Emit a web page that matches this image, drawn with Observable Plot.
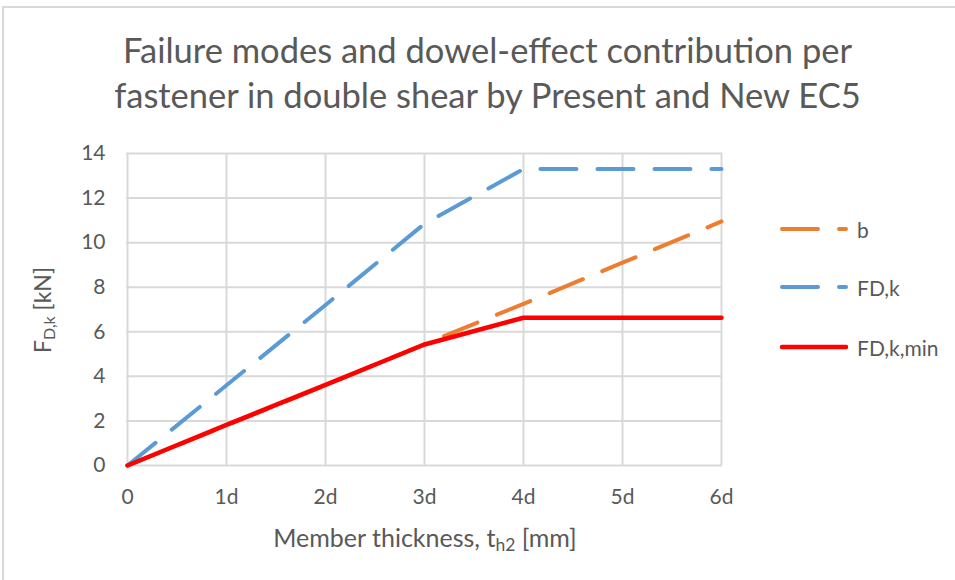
<!DOCTYPE html>
<html><head><meta charset="utf-8">
<script src="https://cdn.jsdelivr.net/npm/d3@7"></script>
<script src="https://cdn.jsdelivr.net/npm/@observablehq/plot@0.6"></script>
<style>
body{margin:0;background:#fff;}
#chart{position:relative;width:955px;height:580px;overflow:hidden;font-family:Lato,"Open Sans",sans-serif;color:#595959;background:#fff;}
#frame{position:absolute;left:2px;top:6px;width:990px;height:600px;border-top:2px solid #d9d9d9;border-left:2px solid #d9d9d9;}
#title{position:absolute;left:0;width:975px;top:27px;text-align:center;font-size:34.5px;line-height:45px;}
#plot{position:absolute;left:0;top:130px;}
#ytitle{position:absolute;left:42px;top:310px;transform:translate(-50%,-50%) rotate(-90deg);white-space:nowrap;font-size:23px;}
#xtitle{position:absolute;left:425px;top:537px;transform:translate(-50%,-50%);white-space:nowrap;font-size:25px;}
sub{font-size:0.7em;vertical-align:-0.25em;line-height:0;}
.leg{position:absolute;left:778px;height:20px;display:flex;align-items:center;font-size:21px;white-space:nowrap;}
.leg svg{margin-right:9px;}
</style></head>
<body>
<div id="chart">
<div id="frame"></div>
<div id="title">Failure modes and dowel-effect contribution per<br>fastener in double shear by Present and New EC5</div>
<div id="plot"></div>
<div id="ytitle">F<sub>D,k</sub> [kN]</div>
<div id="xtitle">Member thickness, t<sub>h2</sub> [mm]</div>
<div id="legend"></div>
</div>
<script>
const categories = ["0","1d","2d","3d","4d","5d","6d"];
const bValues = [0, 1.8, 3.6, 5.45, 7.25, 9.1, 10.95];
const fdkValues = [0, 3.6, 7.2, 10.85, 13.3, 13.3, 13.3];
const fdkMinValues = [0, 1.82, 3.62, 5.43, 6.63, 6.63, 6.63];
const yTicks = [0, 2, 4, 6, 8, 10, 12, 14];
const seriesNames = ["b", "FD,k", "FD,k,min"];
const seriesColors = ["#ed7d31", "#5b9bd5", "#ff0000"];

const rows = (vals, name) => categories.map((c, i) => ({x: c, y: vals[i], series: name}));
const bData = rows(bValues, seriesNames[0]);
const fdkData = rows(fdkValues, seriesNames[1]);
const minData = rows(fdkMinValues, seriesNames[2]);

const dash = "36,21";
const chart = Plot.plot({
  width: 955,
  height: 450,
  marginLeft: 126,
  marginRight: 233,
  marginTop: 23,
  marginBottom: 115,
  style: {fontFamily: "Lato, 'Open Sans', sans-serif", fontSize: "21px", color: "#595959", background: "transparent", overflow: "visible"},
  x: {type: "point", domain: categories, padding: 0, label: null},
  y: {domain: [0, 14], ticks: yTicks, label: null},
  marks: [
    Plot.gridX(categories, {stroke: "#d9d9d9", strokeOpacity: 1, strokeWidth: 2}),
    Plot.gridY(yTicks, {stroke: "#d9d9d9", strokeOpacity: 1, strokeWidth: 2}),
    Plot.axisX({tickSize: 0, tickPadding: 24, fontSize: 21, fill: "#595959", label: null}),
    Plot.axisY({ticks: yTicks, tickSize: 0, tickPadding: 21, fontSize: 21, fill: "#595959", label: null}),
    Plot.line(bData, {x: "x", y: "y", stroke: seriesColors[0], strokeWidth: 4, strokeDasharray: dash, strokeLinecap: "round", strokeLinejoin: "round"}),
    Plot.line(fdkData, {x: "x", y: "y", stroke: seriesColors[1], strokeWidth: 4, strokeDasharray: dash, strokeLinecap: "round", strokeLinejoin: "round"}),
    Plot.line(minData, {x: "x", y: "y", stroke: seriesColors[2], strokeWidth: 4.5, strokeLinecap: "round", strokeLinejoin: "round"})
  ]
});
document.getElementById("plot").appendChild(chart);

const legendY = [229, 287, 347];
const legend = document.getElementById("legend");
seriesNames.forEach((name, i) => {
  const div = document.createElement("div");
  div.className = "leg";
  div.style.top = (legendY[i] - 10) + "px";
  const dashed = i < 2;
  div.innerHTML = `<svg width="70" height="10"><line x1="4" x2="68" y1="5" y2="5" stroke="${seriesColors[i]}" stroke-width="${dashed ? 4 : 4.5}" stroke-linecap="round" ${dashed ? `stroke-dasharray="${dash}"` : ""}/></svg><span>${name}</span>`;
  legend.appendChild(div);
});
</script>
</body></html>
